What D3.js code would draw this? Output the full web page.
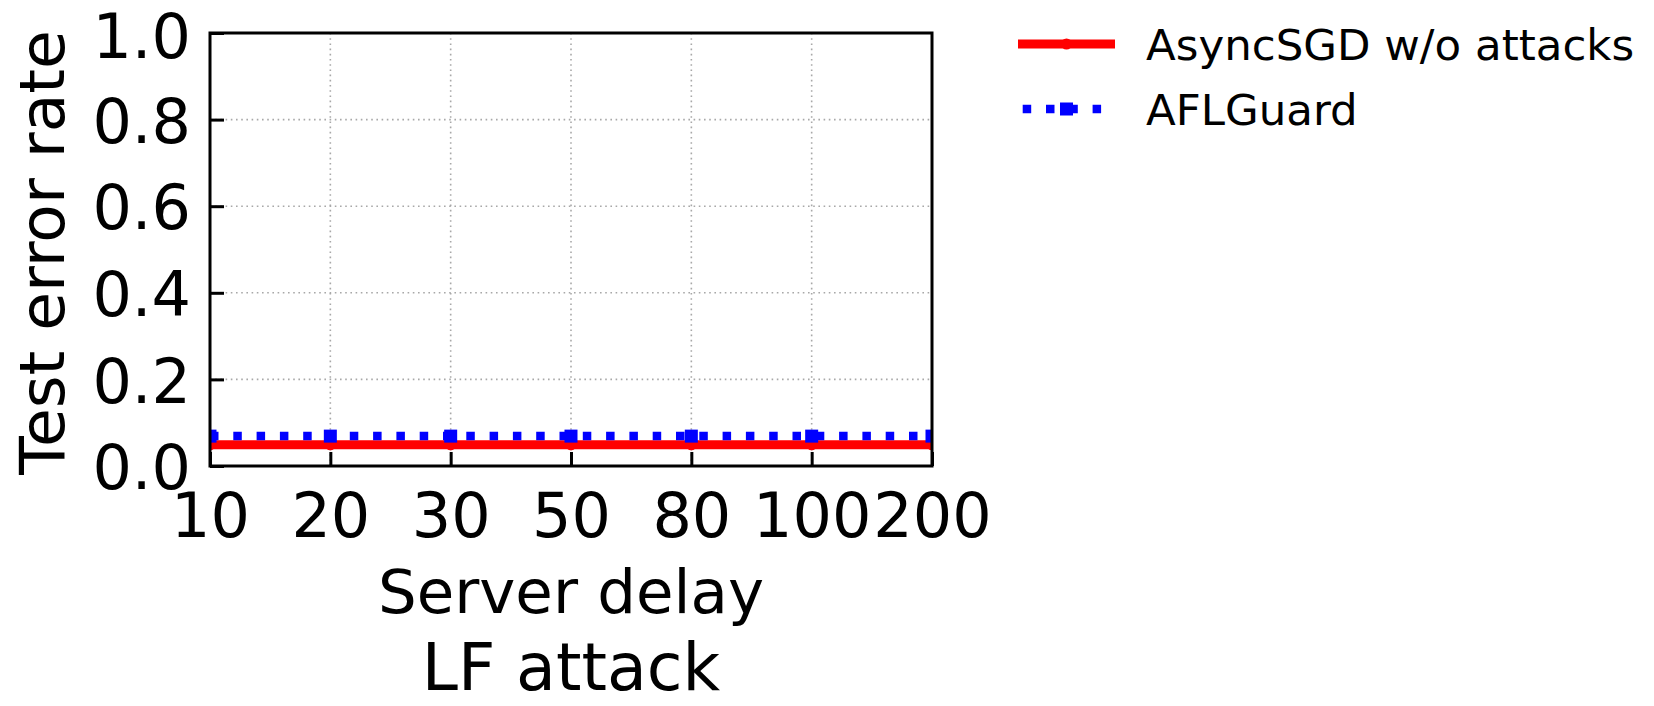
<!DOCTYPE html>
<html><head><meta charset="utf-8">
<script src="https://cdn.jsdelivr.net/npm/d3@7"></script>
<style>body{margin:0;background:#fff}svg{display:block}</style>
</head><body>
<svg id="chart" width="1654" height="706"></svg>
<script>
// ---- data ----
const categories = ["10", "20", "30", "50", "80", "100", "200"];
const asyncSGD = [0.049, 0.049, 0.049, 0.049, 0.049, 0.049, 0.049];
const aflGuard = [0.069, 0.069, 0.069, 0.069, 0.069, 0.069, 0.069];
const yTickValues = [0.0, 0.2, 0.4, 0.6, 0.8, 1.0];
const seriesNames = ["AsyncSGD w/o attacks", "AFLGuard"];
const xLabel = "Server delay";
const yLabel = "Test error rate";
const subTitle = "LF attack";

// ---- layout ----
const svg = d3.select("#chart");
const L = 210, R = 932, T = 33, B = 466;
const FONT = "DejaVu Sans, Verdana, sans-serif";

svg.append("rect").attr("width", 1654).attr("height", 706).attr("fill", "#fff");

const x = d3.scalePoint().domain(categories).range([L, R]).padding(0);
const y = d3.scaleLinear().domain([0, 1]).range([B, T]);

// grid
const grid = svg.append("g");
grid.selectAll("line.gx").data(categories).join("line")
  .attr("x1", d => x(d)).attr("x2", d => x(d)).attr("y1", T).attr("y2", B)
  .attr("stroke", "#a8a8a8").attr("stroke-width", 1.6).attr("stroke-dasharray", "1.6,3.6");
grid.selectAll("line.gy").data(yTickValues).join("line")
  .attr("x1", L).attr("x2", R).attr("y1", d => y(d)).attr("y2", d => y(d))
  .attr("stroke", "#a8a8a8").attr("stroke-width", 1.6).attr("stroke-dasharray", "1.6,3.6");

// axes with inward ticks
const xAxis = svg.append("g").attr("transform", `translate(0,${B})`)
  .call(d3.axisBottom(x).tickSize(-14).tickPadding(27));
const yAxis = svg.append("g").attr("transform", `translate(${L},0)`)
  .call(d3.axisLeft(y).tickValues(yTickValues).tickFormat(d3.format(".1f")).tickSize(-14).tickPadding(19));
[xAxis, yAxis].forEach(g => {
  g.select(".domain").remove();
  g.selectAll(".tick line").attr("stroke", "#000").attr("stroke-width", 3);
  g.selectAll(".tick text").attr("font-family", FONT).attr("font-size", 62).attr("fill", "#000");
});
yAxis.selectAll(".tick text").attr("dy", d => d === 1 ? "0.4em" : "0.365em");

// clip
svg.append("clipPath").attr("id", "plotclip").append("rect")
  .attr("x", L).attr("y", T).attr("width", R - L).attr("height", B - T);
const plot = svg.append("g").attr("clip-path", "url(#plotclip)");

const line = d3.line().x((d, i) => x(categories[i])).y(d => y(d));

// red series
plot.append("path").datum(asyncSGD).attr("d", line)
  .attr("fill", "none").attr("stroke", "#ff0000").attr("stroke-width", 9);
plot.selectAll("circle.r").data(asyncSGD).join("circle")
  .attr("cx", (d, i) => x(categories[i])).attr("cy", d => y(d)).attr("r", 5.5).attr("fill", "#ff0000");

// blue series
plot.append("path").datum(aflGuard).attr("d", line)
  .attr("fill", "none").attr("stroke", "#0000ff").attr("stroke-width", 8.5)
  .attr("stroke-dasharray", "8.5,14.8").attr("stroke-linecap", "butt");
plot.selectAll("rect.b").data(aflGuard).join("rect")
  .attr("x", (d, i) => x(categories[i]) - 6.5).attr("y", d => y(d) - 6.5)
  .attr("width", 13).attr("height", 13).attr("fill", "#0000ff");

// frame
svg.append("rect").attr("x", L).attr("y", T).attr("width", R - L).attr("height", B - T)
  .attr("fill", "none").attr("stroke", "#000").attr("stroke-width", 3);

// labels
svg.append("text").attr("x", (L + R) / 2).attr("y", 613).attr("text-anchor", "middle")
  .attr("font-family", FONT).attr("font-size", 61).text(xLabel);
svg.append("text").attr("x", (L + R) / 2).attr("y", 690).attr("text-anchor", "middle")
  .attr("font-family", FONT).attr("font-size", 65).text(subTitle);
svg.append("text").attr("transform", `translate(64,${(T + B) / 2 + 3}) rotate(-90)`)
  .attr("text-anchor", "middle").attr("font-family", FONT).attr("font-size", 63).text(yLabel);

// legend
const lg = svg.append("g");
const lx1 = 1018, lx2 = 1115, lmid = 1066.5;
lg.append("line").attr("x1", lx1).attr("x2", lx2).attr("y1", 44).attr("y2", 44)
  .attr("stroke", "#ff0000").attr("stroke-width", 9);
lg.append("circle").attr("cx", lmid).attr("cy", 44).attr("r", 5.5).attr("fill", "#ff0000");
lg.append("line").attr("x1", lx1).attr("x2", lx2).attr("y1", 109).attr("y2", 109)
  .attr("stroke", "#0000ff").attr("stroke-width", 8.5)
  .attr("stroke-dasharray", "8.5,14.8").attr("stroke-dashoffset", 18.6);
lg.append("rect").attr("x", lmid - 6.5).attr("y", 109 - 6.5).attr("width", 13).attr("height", 13).attr("fill", "#0000ff");
lg.selectAll("text").data(seriesNames).join("text")
  .attr("x", 1146).attr("y", (d, i) => 60 + i * 65)
  .attr("font-family", FONT).attr("font-size", 43.5).attr("fill", "#000").text(d => d);
</script>
</body></html>
